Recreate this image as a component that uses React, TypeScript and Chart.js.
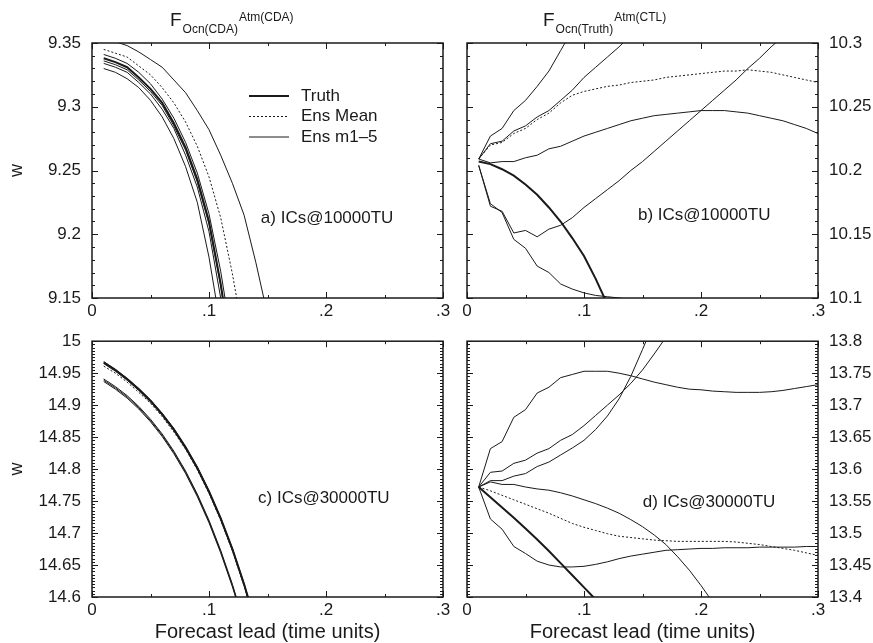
import React, { useEffect, useRef } from 'react';
import { Chart, registerables } from 'chart.js';

Chart.register(...registerables);

// Forecast lead times (time units) shared by every series
const LEAD = [
  0.01, 0.02, 0.03, 0.04, 0.05, 0.06, 0.07, 0.08, 0.09, 0.10,
  0.11, 0.12, 0.13, 0.14, 0.15, 0.16, 0.17, 0.18, 0.19, 0.20,
  0.21, 0.22, 0.23, 0.24, 0.25, 0.26, 0.27, 0.28, 0.29, 0.30,
];

const X_TICKS = [0, 0.1, 0.2, 0.3];
const X_TICK_LABELS = ['0', '.1', '.2', '.3'];
const X_MINOR = 0.05;

// a) ICs@10000TU, coupled DA
const A_TRUTH = [9.338, 9.335, 9.331, 9.323, 9.314, 9.303, 9.287, 9.268, 9.243, 9.210, 9.161, 9.101];
const A_MEAN = [9.345, 9.342, 9.339, 9.332, 9.325, 9.315, 9.303, 9.288, 9.269, 9.245, 9.213, 9.169, 9.117];
const A_M1 = [9.353, 9.351, 9.348, 9.343, 9.337, 9.331, 9.321, 9.311, 9.297, 9.282, 9.262, 9.240, 9.215, 9.178, 9.137];
const A_M2 = [9.341, 9.338, 9.334, 9.327, 9.318, 9.306, 9.291, 9.272, 9.248, 9.216, 9.171, 9.114];
const A_M3 = [9.336, 9.333, 9.329, 9.321, 9.312, 9.301, 9.285, 9.266, 9.241, 9.208, 9.160, 9.100];
const A_M4 = [9.334, 9.331, 9.327, 9.319, 9.310, 9.298, 9.283, 9.262, 9.237, 9.202, 9.150, 9.089];
const A_M5 = [9.330, 9.327, 9.322, 9.315, 9.305, 9.292, 9.275, 9.253, 9.225, 9.182, 9.127];
const A_Y_TICKS = [9.15, 9.2, 9.25, 9.3, 9.35];
const A_Y_LABELS = ['9.15', '9.2', '9.25', '9.3', '9.35'];

// b) ICs@10000TU, control atmosphere
const B_TRUTH = [10.207, 10.205, 10.201, 10.196, 10.189, 10.181, 10.171, 10.160, 10.147, 10.133, 10.115, 10.095];
const B_MEAN = [10.209, 10.220, 10.222, 10.229, 10.233, 10.240, 10.245, 10.253, 10.259, 10.262, 10.264, 10.266, 10.267, 10.269, 10.270, 10.271, 10.273, 10.274, 10.275, 10.276, 10.277, 10.278, 10.278, 10.279, 10.278, 10.277, 10.275, 10.273, 10.271, 10.269];
const B_M1 = [10.209, 10.227, 10.233, 10.247, 10.255, 10.266, 10.278, 10.294, 10.310];
const B_M2 = [10.209, 10.221, 10.223, 10.231, 10.235, 10.242, 10.247, 10.255, 10.263, 10.273, 10.281, 10.289, 10.297, 10.306];
const B_M3 = [10.209, 10.206, 10.207, 10.207, 10.210, 10.212, 10.217, 10.219, 10.223, 10.227, 10.230, 10.233, 10.236, 10.239, 10.241, 10.243, 10.244, 10.245, 10.246, 10.247, 10.247, 10.247, 10.246, 10.245, 10.243, 10.241, 10.239, 10.236, 10.233, 10.229];
const B_M4 = [10.204, 10.172, 10.168, 10.151, 10.153, 10.148, 10.154, 10.157, 10.163, 10.171, 10.178, 10.185, 10.192, 10.200, 10.207, 10.215, 10.223, 10.231, 10.239, 10.247, 10.255, 10.263, 10.271, 10.280, 10.288, 10.297, 10.305];
const B_M5 = [10.204, 10.174, 10.167, 10.146, 10.139, 10.125, 10.120, 10.111, 10.107, 10.104, 10.102, 10.101, 10.100, 10.099, 10.097];
const B_Y_TICKS = [10.1, 10.15, 10.2, 10.25, 10.3];
const B_Y_LABELS = ['10.1', '10.15', '10.2', '10.25', '10.3'];

// c) ICs@30000TU, coupled DA
const C_TRUTH = [14.967, 14.955, 14.941, 14.925, 14.907, 14.886, 14.862, 14.834, 14.802, 14.765, 14.723, 14.675, 14.620, 14.558];
const C_MEAN = [14.961, 14.950, 14.936, 14.920, 14.903, 14.882, 14.858, 14.831, 14.799, 14.762, 14.720, 14.672, 14.617, 14.555];
const C_M1 = [14.965, 14.953, 14.939, 14.923, 14.905, 14.884, 14.860, 14.832, 14.800, 14.763, 14.721, 14.673, 14.618, 14.556];
const C_M2 = [14.941, 14.929, 14.915, 14.898, 14.878, 14.855, 14.828, 14.797, 14.761, 14.720, 14.673, 14.620, 14.560];
const C_M3 = [14.939, 14.927, 14.913, 14.896, 14.876, 14.853, 14.826, 14.795, 14.759, 14.718, 14.671, 14.618, 14.558];
const C_M4 = [14.937, 14.925, 14.911, 14.894, 14.874, 14.851, 14.824, 14.793, 14.757, 14.716, 14.669, 14.616, 14.556];
const C_M5 = [14.968, 14.956, 14.942, 14.926, 14.908, 14.887, 14.863, 14.835, 14.803, 14.766, 14.724, 14.676, 14.621, 14.559];
const C_Y_TICKS = [14.6, 14.65, 14.7, 14.75, 14.8, 14.85, 14.9, 14.95, 15];
const C_Y_LABELS = ['14.6', '14.65', '14.7', '14.75', '14.8', '14.85', '14.9', '14.95', '15'];

// d) ICs@30000TU, control atmosphere
const D_TRUTH = [13.572, 13.556, 13.540, 13.524, 13.507, 13.490, 13.472, 13.453, 13.434, 13.415, 13.396, 13.376];
const D_MEAN = [13.572, 13.566, 13.559, 13.552, 13.545, 13.538, 13.531, 13.523, 13.515, 13.509, 13.504, 13.499, 13.495, 13.493, 13.491, 13.489, 13.488, 13.487, 13.487, 13.487, 13.487, 13.487, 13.486, 13.484, 13.482, 13.479, 13.476, 13.473, 13.469, 13.465];
const D_M1 = [13.572, 13.632, 13.643, 13.681, 13.693, 13.719, 13.728, 13.743, 13.748, 13.753, 13.753, 13.753, 13.750, 13.746, 13.741, 13.736, 13.732, 13.728, 13.725, 13.724, 13.722, 13.721, 13.720, 13.720, 13.720, 13.721, 13.723, 13.726, 13.729, 13.732];
const D_M2 = [13.572, 13.595, 13.597, 13.609, 13.614, 13.625, 13.632, 13.645, 13.654, 13.668, 13.684, 13.700, 13.716, 13.734, 13.755, 13.780, 13.806];
const D_M3 = [13.572, 13.582, 13.582, 13.589, 13.593, 13.604, 13.611, 13.622, 13.633, 13.645, 13.662, 13.683, 13.710, 13.745, 13.787, 13.830];
const D_M4 = [13.572, 13.580, 13.576, 13.576, 13.572, 13.569, 13.567, 13.563, 13.558, 13.552, 13.546, 13.539, 13.531, 13.521, 13.510, 13.497, 13.482, 13.463, 13.442, 13.418, 13.392];
const D_M5 = [13.572, 13.522, 13.506, 13.479, 13.468, 13.456, 13.450, 13.447, 13.447, 13.448, 13.451, 13.455, 13.460, 13.464, 13.467, 13.470, 13.473, 13.474, 13.475, 13.476, 13.476, 13.477, 13.477, 13.477, 13.478, 13.478, 13.478, 13.478, 13.479, 13.479];
const D_Y_TICKS = [13.4, 13.45, 13.5, 13.55, 13.6, 13.65, 13.7, 13.75, 13.8];
const D_Y_LABELS = ['13.4', '13.45', '13.5', '13.55', '13.6', '13.65', '13.7', '13.75', '13.8'];

const INK = '#1a1a1a';
const FONT = "'Liberation Sans', Arial, Helvetica, sans-serif";

type Kind = 'truth' | 'mean' | 'member';
type Series = { label: string; kind: Kind; values: number[] };
type PanelSpec = {
  id: string;
  left: number; top: number; width: number; height: number;
  pad: { left: number; right: number; top: number; bottom: number };
  side: 'left' | 'right';
  yMin: number; yMax: number; yTicks: number[]; yLabels: string[]; yMinor: number;
  series: Series[];
  annot: any;
};

const seriesOf = (truth: number[], mean: number[], members: number[][]): Series[] => [
  ...members.map((m, i) => ({ label: `Ens m${i + 1}`, kind: 'member' as Kind, values: m })),
  { label: 'Ens Mean', kind: 'mean', values: mean },
  { label: 'Truth', kind: 'truth', values: truth },
];

const PANELS: PanelSpec[] = [
  {
    id: 'a', left: 0, top: 0, width: 455, height: 320,
    pad: { left: 17, right: 12, top: 43, bottom: 0 }, side: 'left',
    yMin: 9.15, yMax: 9.35, yTicks: A_Y_TICKS, yLabels: A_Y_LABELS, yMinor: 0.01,
    series: seriesOf(A_TRUTH, A_MEAN, [A_M1, A_M2, A_M3, A_M4, A_M5]),
    annot: {
      title: { main: 'F', sub: 'Ocn(CDA)', sup: 'Atm(CDA)', dx: 78 },
      tag: { text: 'a) ICs@10000TU', fx: 0.481, fy: 0.686 },
      yTitle: 'w', legend: true,
    },
  },
  {
    id: 'b', left: 455, top: 0, width: 418, height: 320,
    pad: { left: 12, right: 0, top: 43, bottom: 0 }, side: 'right',
    yMin: 10.1, yMax: 10.3, yTicks: B_Y_TICKS, yLabels: B_Y_LABELS, yMinor: 0.01,
    series: seriesOf(B_TRUTH, B_MEAN, [B_M1, B_M2, B_M3, B_M4, B_M5]),
    annot: {
      title: { main: 'F', sub: 'Ocn(Truth)', sup: 'Atm(CTL)', dx: 76 },
      tag: { text: 'b) ICs@10000TU', fx: 0.487, fy: 0.675 },
    },
  },
  {
    id: 'c', left: 0, top: 320, width: 455, height: 323,
    pad: { left: 17, right: 12, top: 21, bottom: 24 }, side: 'left',
    yMin: 14.6, yMax: 15, yTicks: C_Y_TICKS, yLabels: C_Y_LABELS, yMinor: 0.005,
    series: seriesOf(C_TRUTH, C_MEAN, [C_M1, C_M2, C_M3, C_M4, C_M5]),
    annot: {
      tag: { text: 'c) ICs@30000TU', fx: 0.473, fy: 0.613 },
      yTitle: 'w', xTitle: 'Forecast lead (time units)',
    },
  },
  {
    id: 'd', left: 455, top: 320, width: 418, height: 323,
    pad: { left: 12, right: 0, top: 21, bottom: 24 }, side: 'right',
    yMin: 13.4, yMax: 13.8, yTicks: D_Y_TICKS, yLabels: D_Y_LABELS, yMinor: 0.005,
    series: seriesOf(D_TRUTH, D_MEAN, [D_M1, D_M2, D_M3, D_M4, D_M5]),
    annot: {
      tag: { text: 'd) ICs@30000TU', fx: 0.501, fy: 0.629 },
      xTitle: 'Forecast lead (time units)',
    },
  },
];

// Box frame with inward major/minor tick marks on all four sides
const framePlugin = {
  id: 'frame',
  afterDatasetsDraw(chart: any, _args: any, opts: any) {
    const { ctx, chartArea } = chart;
    const { left, right, top, bottom } = chartArea;
    const xs = chart.scales.x;
    const ys = chart.scales.y;
    ctx.save();
    ctx.strokeStyle = INK;
    ctx.lineWidth = 1;
    const near = (v: number, list: number[]) => list.some((t) => Math.abs(t - v) < 1e-6);
    const nx = Math.round((xs.max - xs.min) / opts.xMinor);
    for (let i = 0; i <= nx; i++) {
      const v = xs.min + i * opts.xMinor;
      const px = Math.round(xs.getPixelForValue(v)) + 0.5;
      const len = near(v, opts.xMajor) ? 6 : 3;
      ctx.beginPath();
      ctx.moveTo(px, bottom); ctx.lineTo(px, bottom - len);
      ctx.moveTo(px, top); ctx.lineTo(px, top + len);
      ctx.stroke();
    }
    const ny = Math.round((ys.max - ys.min) / opts.yMinor);
    for (let i = 0; i <= ny; i++) {
      const v = ys.min + i * opts.yMinor;
      const py = Math.round(ys.getPixelForValue(v)) + 0.5;
      const len = near(v, opts.yMajor) ? 6 : 3;
      ctx.beginPath();
      ctx.moveTo(left, py); ctx.lineTo(left + len, py);
      ctx.moveTo(right, py); ctx.lineTo(right - len, py);
      ctx.stroke();
    }
    ctx.lineWidth = 1.5;
    ctx.strokeRect(left, top, right - left, bottom - top);
    ctx.restore();
  },
};

// Panel titles, axis titles, panel tags and the line legend
const annotPlugin = {
  id: 'annot',
  afterDraw(chart: any, _args: any, o: any) {
    const { ctx, chartArea } = chart;
    const { left, right, top, bottom } = chartArea;
    const w = right - left;
    const h = bottom - top;
    ctx.save();
    ctx.fillStyle = INK;
    ctx.strokeStyle = INK;
    ctx.textBaseline = 'alphabetic';
    ctx.textAlign = 'left';
    if (o.title) {
      const x0 = left + o.title.dx;
      const base = top - 17;
      ctx.font = `19px ${FONT}`;
      ctx.fillText(o.title.main, x0, base);
      const fw = ctx.measureText(o.title.main).width;
      ctx.font = `12px ${FONT}`;
      ctx.fillText(o.title.sub, x0 + fw + 1, base + 7);
      const sw = ctx.measureText(o.title.sub).width;
      ctx.fillText(o.title.sup, x0 + fw + sw + 2, base - 5);
    }
    if (o.tag) {
      ctx.font = `17px ${FONT}`;
      ctx.textBaseline = 'middle';
      ctx.fillText(o.tag.text, left + o.tag.fx * w, top + o.tag.fy * h);
    }
    if (o.yTitle) {
      ctx.save();
      ctx.font = `18px ${FONT}`;
      ctx.textAlign = 'center';
      ctx.textBaseline = 'middle';
      ctx.translate(left - 75, top + h / 2);
      ctx.rotate(-Math.PI / 2);
      ctx.fillText(o.yTitle, 0, 0);
      ctx.restore();
    }
    if (o.xTitle) {
      ctx.font = `20px ${FONT}`;
      ctx.textAlign = 'center';
      ctx.textBaseline = 'middle';
      ctx.fillText(o.xTitle, left + w / 2, bottom + 35);
    }
    if (o.legend) {
      const rows = [
        { text: 'Truth', width: 2, dash: [] as number[] },
        { text: 'Ens Mean', width: 1, dash: [2, 2] },
        { text: 'Ens m1\u20135', width: 1, dash: [] as number[] },
      ];
      ctx.font = `17px ${FONT}`;
      ctx.textAlign = 'left';
      ctx.textBaseline = 'middle';
      rows.forEach((r, i) => {
        const y = top + 53 + i * 20.5;
        ctx.beginPath();
        ctx.setLineDash(r.dash);
        ctx.lineWidth = r.width;
        ctx.moveTo(left + 157, y);
        ctx.lineTo(left + 197, y);
        ctx.stroke();
        ctx.setLineDash([]);
        ctx.fillText(r.text, left + 209, y);
      });
    }
    ctx.restore();
  },
};

function Panel({ spec }: { spec: PanelSpec }) {
  const ref = useRef<HTMLCanvasElement | null>(null);
  useEffect(() => {
    if (!ref.current) return;
    const datasets = spec.series.map((s) => ({
      label: s.label,
      data: s.values.map((v, i) => ({ x: LEAD[i], y: v })),
      borderColor: INK,
      borderWidth: s.kind === 'truth' ? 2 : 1,
      borderDash: s.kind === 'mean' ? [2, 2] : [],
      pointRadius: 0,
      tension: 0,
      fill: false,
      clip: 0,
    }));
    const chart = new Chart(ref.current, {
      type: 'line',
      data: { datasets },
      options: {
        responsive: false,
        animation: false,
        devicePixelRatio: 1,
        layout: { padding: spec.pad },
        plugins: {
          legend: { display: false },
          tooltip: { enabled: false },
          frame: { xMinor: X_MINOR, xMajor: X_TICKS, yMinor: spec.yMinor, yMajor: spec.yTicks },
          annot: spec.annot,
        } as any,
        scales: {
          x: {
            type: 'linear',
            position: 'bottom',
            min: 0,
            max: 0.3,
            afterBuildTicks: (s: any) => { s.ticks = X_TICKS.map((v) => ({ value: v })); },
            afterFit: (s: any) => { s.height = 22; },
            grid: { display: false, drawTicks: false },
            border: { display: false },
            ticks: {
              autoSkip: false,
              maxRotation: 0,
              padding: 3,
              color: INK,
              font: { family: FONT, size: 17 },
              callback: (_v: any, i: number) => X_TICK_LABELS[i],
            },
          },
          y: {
            type: 'linear',
            position: spec.side,
            min: spec.yMin,
            max: spec.yMax,
            afterBuildTicks: (s: any) => { s.ticks = spec.yTicks.map((v) => ({ value: v })); },
            afterFit: (s: any) => { s.width = spec.side === 'left' ? 75 : 55; },
            grid: { display: false, drawTicks: false },
            border: { display: false },
            ticks: {
              autoSkip: false,
              padding: 11,
              color: INK,
              font: { family: FONT, size: 17 },
              callback: (_v: any, i: number) => spec.yLabels[i],
            },
          },
        },
      } as any,
      plugins: [framePlugin, annotPlugin],
    });
    return () => chart.destroy();
  }, [spec]);
  return (
    <canvas
      ref={ref}
      width={spec.width}
      height={spec.height}
      style={{ position: 'absolute', left: spec.left, top: spec.top, width: spec.width, height: spec.height }}
    />
  );
}

export default function App() {
  return (
    <div style={{ position: 'absolute', left: 0, top: 0, width: 873, height: 643, background: '#ffffff', overflow: 'hidden' }}>
      {PANELS.map((p) => (
        <Panel key={p.id} spec={p} />
      ))}
    </div>
  );
}
